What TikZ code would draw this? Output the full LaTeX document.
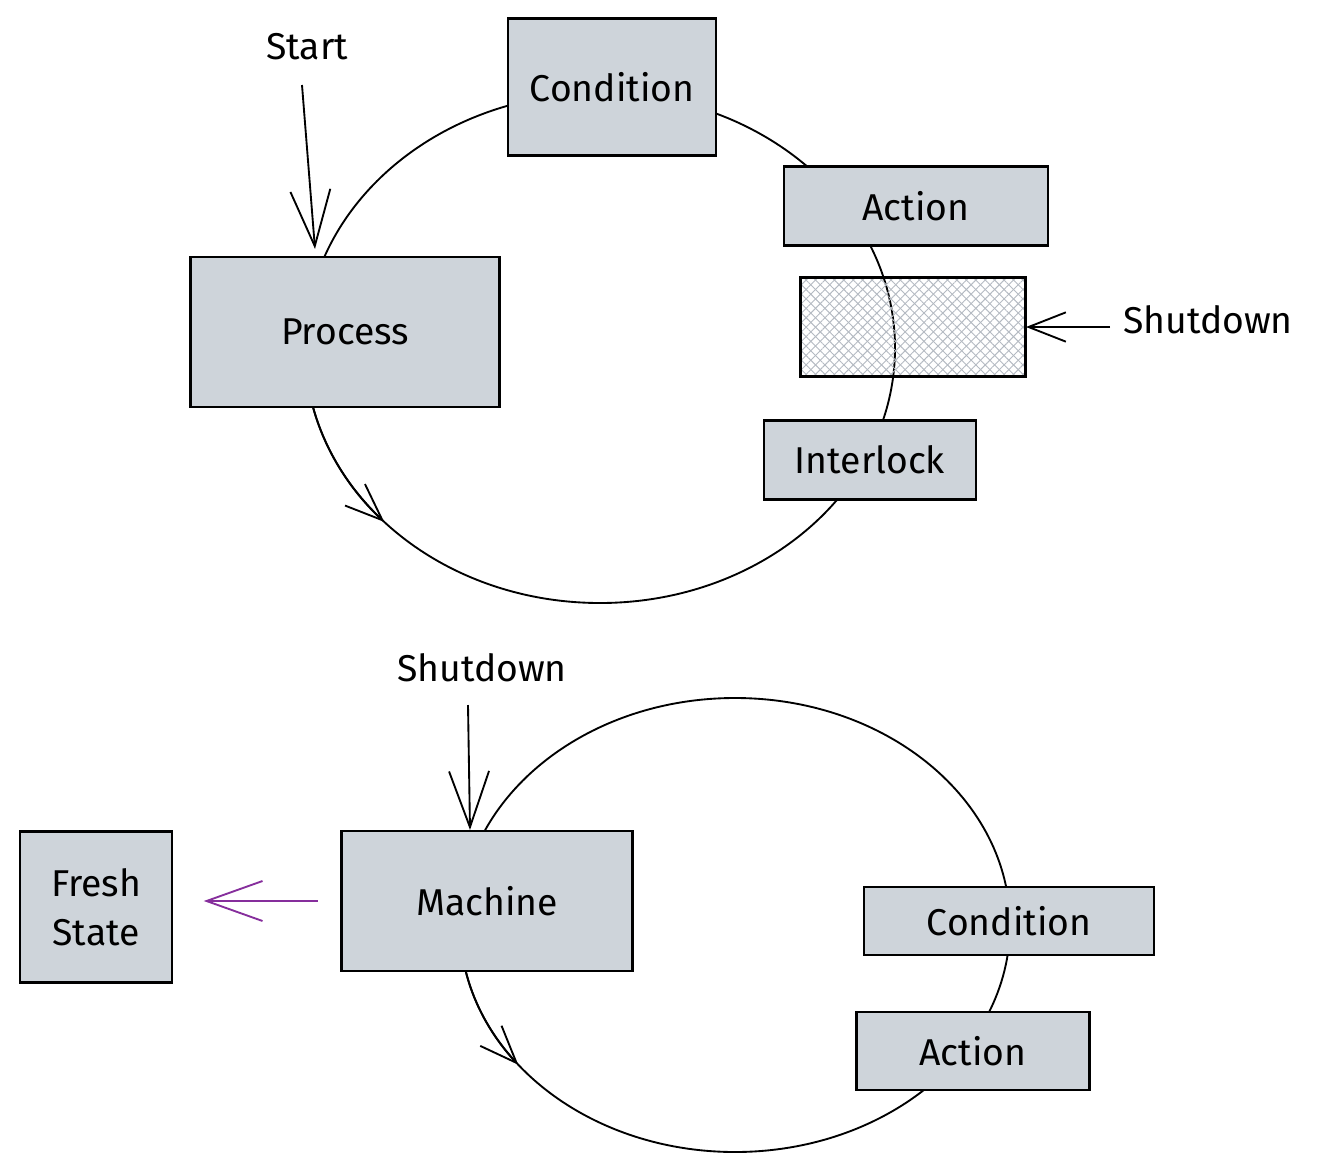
\documentclass[tikz,border=0pt]{standalone}
\usepackage{fontspec}
\setmainfont{Fira Sans}
\usetikzlibrary{arrows.meta,patterns.meta,calc}
\definecolor{boxgray}{RGB}{206,212,218}
\definecolor{hatchgray}{RGB}{180,186,194}
\definecolor{grape}{RGB}{134,46,156}
\tikzset{every picture/.style={line width=0.75pt}}
\tikzset{
  block/.style={draw, line width=1.6pt, fill=boxgray, inner sep=0pt, align=center, font=\fontsize{28}{37}\selectfont},
  notetext/.style={inner sep=0pt, font=\fontsize{28}{37}\selectfont},
  stroke/.style={line width=1.4pt},
  bigtip/.style={-{Straight Barb[length=42pt,width=30pt]}},
  smalltip/.style={-{Straight Barb[length=28pt,width=22pt]}},
}

\begin{document}
\begin{tikzpicture}[x=0.75pt,y=0.75pt,yscale=-1,xscale=1]
	\useasboundingbox (0,0) rectangle (1317,1171);
	
	%Shape: Ellipse [upper loop]
	\draw [stroke]    (600,348) ellipse [x radius=295, y radius=255] ;
	%Curve Lines [upper loop arrow]
	\draw [stroke, smalltip]    (600,348) ++(167:295 and 255) arc [start angle=167, end angle=137, x radius=295, y radius=255] ;
	%Shape: Ellipse [lower loop]
	\draw [stroke]    (735,925) ellipse [x radius=275, y radius=227] ;
	%Curve Lines [lower loop arrow]
	\draw [stroke, smalltip]    (735,925) ++(168:275 and 227) arc [start angle=168, end angle=142, x radius=275, y radius=227] ;
	
	%Shape: Rectangle [upper loop]
	\node [block, minimum width=156pt, minimum height=102.75pt] (cond1) at (612,87) {Condition};
	\node [block, minimum width=198pt, minimum height=59.25pt] (act1) at (916,206) {Action};
	\node [draw, line width=1.6pt, inner sep=0pt, minimum width=168.75pt, minimum height=74.25pt,
	       preaction={pattern={Lines[angle=45,distance=5pt,line width=0.7pt]}, pattern color=hatchgray},
	       pattern={Lines[angle=-45,distance=5pt,line width=0.7pt]}, pattern color=hatchgray] (stop1) at (913,327) {};
	\node [block, minimum width=159pt, minimum height=59.25pt] (lock) at (870,460) {Interlock};
	\node [block, minimum width=231.75pt, minimum height=112.5pt] (proc) at (345,332) {Process};
	
	%Shape: Rectangle [lower loop]
	\node [block, minimum width=218.25pt, minimum height=105pt] (mach) at (487,901) {Machine};
	\node [block, minimum width=114pt, minimum height=113.25pt] (fresh) at (96,907) {Fresh\\State};
	\node [block, minimum width=217.5pt, minimum height=51pt] (cond2) at (1009,921) {Condition};
	\node [block, minimum width=174.75pt, minimum height=58.5pt] (act2) at (973,1051) {Action};
	
	%Text
	\node [notetext] (start) at (307,47) {Start};
	\node [notetext] (shut1) at (1208,320) {Shutdown};
	\node [notetext] (shut2) at (482,668) {Shutdown};
	
	%Straight Lines [arrows]
	\coordinate (startfoot) at (302,85);
	\coordinate (shutfoot1) at (1110,327);
	\coordinate (shutfoot2) at (468,705);
	\draw [stroke, bigtip]    (startfoot) -- ($(proc.north)+(-30,-7)$) ;
	\draw [stroke, smalltip]    (shutfoot1) -- (stop1.east) ;
	\draw [stroke, bigtip]    (shutfoot2) -- ($(mach.north)+(-17,0)$) ;
	\draw [stroke, bigtip, grape, shorten <=17pt, shorten >=23pt]    (mach.west) -- (mach.west -| fresh.east) ;
	
\end{tikzpicture}
\end{document}
